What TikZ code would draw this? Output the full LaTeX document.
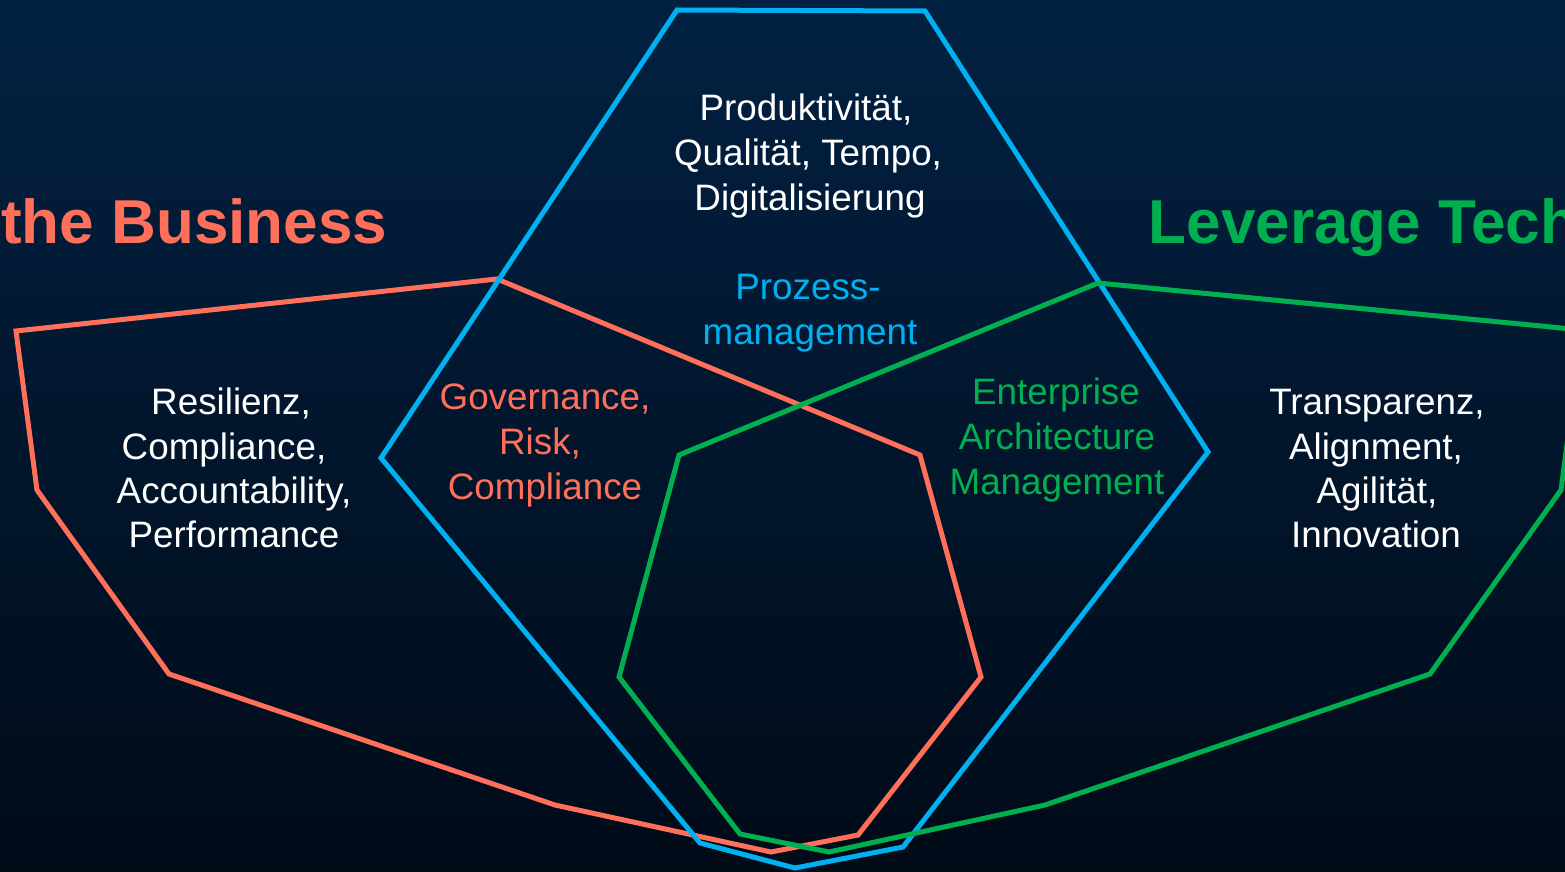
\documentclass[tikz,border=0pt]{standalone}
\usepackage{fontspec}
\setmainfont{Liberation Sans}
\definecolor{bgtop}{RGB}{2,33,66}
\definecolor{bgbot}{RGB}{1,11,24}
\definecolor{corange}{RGB}{255,111,89}
\definecolor{cblue}{RGB}{0,176,240}
\definecolor{cgreen}{RGB}{0,176,80}
\begin{document}
\begin{tikzpicture}[x=1pt,y=-1pt,
  outline/.style={line width=5pt, line join=miter},
  txt/.style={anchor=base, inner sep=0pt, yshift=-2.5pt, font=\fontsize{36.8}{44}\selectfont},
  ttl/.style={anchor=base west, inner sep=0pt, font=\fontsize{62}{74}\selectfont\bfseries}]
\useasboundingbox (0,0) rectangle (1565,872);
\shade[top color=bgtop, bottom color=bgbot] (0,0) rectangle (1565,872);
\begin{scope}
\clip (0,0) rectangle (1565,872);
% orange polygon
\draw[outline, corange] (497,279) -- (920,455) -- (981,677) -- (858,835) -- (771,852) -- (555,805) -- (169,674) -- (37,490) -- (16,331) -- cycle;
% blue polygon
\draw[outline, cblue] (677,10) -- (925,11) -- (1208,452) -- (903,847) -- (795,868) -- (700,843) -- (381,458) -- cycle;
% green polygon
\draw[outline, cgreen] (1098,283) -- (1582,330) -- (1561,490) -- (1430,674) -- (1045,805) -- (829,852) -- (740,834) -- (619,677) -- (679,455) -- cycle;
% titles
\node[ttl, corange] (tbus) at (1,243) {the Business};
\node[ttl, cgreen] (ttech) at (1148.5,243) {Leverage Tech};
\end{scope}
% top text
\node[txt, white] (p1) at (806,118) {Produktivität,};
\node[txt, white] (p2) at (808,163) {Qualität, Tempo,};
\node[txt, white] (p3) at (810,208) {Digitalisierung};
% Prozessmanagement
\node[txt, cblue] (m1) at (808,297) {Prozess-};
\node[txt, cblue] (m2) at (810,342) {management};
% GRC
\node[txt, corange] (g1) at (545,407) {Governance,};
\node[txt, corange] (g2) at (540,452) {Risk,};
\node[txt, corange] (g3) at (545,497) {Compliance};
% EAM
\node[txt, cgreen] (e1) at (1056,402) {Enterprise};
\node[txt, cgreen] (e2) at (1057,447) {Architecture};
\node[txt, cgreen] (e3) at (1057,492) {Management};
% left
\node[txt, white] (l1) at (231,412) {Resilienz,};
\node[txt, white] (l2) at (224,457) {Compliance,};
\node[txt, white] (l3) at (234,501) {Accountability,};
\node[txt, white] (l4) at (234,545) {Performance};
% right
\node[txt, white] (r1) at (1377,412) {Transparenz,};
\node[txt, white] (r2) at (1376,457) {Alignment,};
\node[txt, white] (r3) at (1377,501) {Agilität,};
\node[txt, white] (r4) at (1376,545) {Innovation};
\end{tikzpicture}
\end{document}
